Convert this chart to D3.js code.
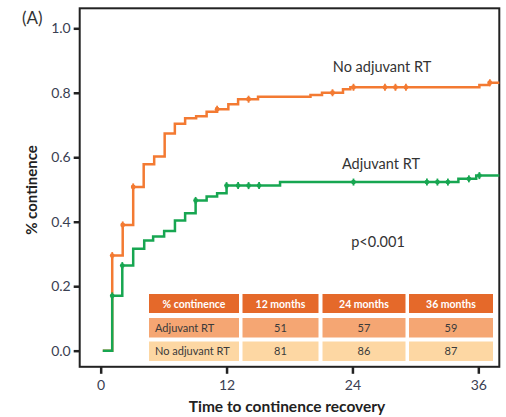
<!DOCTYPE html>
<html>
<head>
<meta charset="utf-8">
<script src="https://cdn.jsdelivr.net/npm/d3@7"></script>
<style>
  body { margin: 0; background: #fff; }
  text { font-family: Lato, "Open Sans", sans-serif; }
</style>
</head>
<body>
<div id="chart"></div>
<script>
// step curves: [months, proportion continent]
let noAdjSteps = [
  [0.2, 0], [1.1, 0.295], [2.1, 0.39], [3.1, 0.508], [4.1, 0.578], [5.1, 0.602],
  [6.1, 0.674], [7.07, 0.704], [8.05, 0.721], [9.1, 0.727], [10.1, 0.741],
  [11.1, 0.749], [12.17, 0.764], [13.1, 0.78], [15.0, 0.788], [20.0, 0.793],
  [21.1, 0.8], [23.1, 0.811], [23.8, 0.817], [36.1, 0.824], [37.0, 0.831], [38, 0.831]
];
let noAdjCensor = [1.1, 2.1, 3.1, 11.1, 14.1, 22.1, 24.1, 27.1, 28.1, 29.1, 37.1];

let adjSteps = [
  [0.2, 0], [1.1, 0.17], [2.06, 0.264], [3.1, 0.316], [4.15, 0.342], [5.0, 0.354],
  [6.05, 0.371], [7.08, 0.404], [8.05, 0.426], [9.05, 0.466], [10.1, 0.478],
  [11.1, 0.488], [12.0, 0.512], [17.1, 0.523], [34.1, 0.533], [35.8, 0.543], [38, 0.543]
];
let adjCensor = [1.1, 2.06, 9.05, 12.0, 13.1, 14.1, 15.1, 24.1, 31.1, 32.1, 33.1, 35.1, 36.1];

let yTicks = [0, 0.2, 0.4, 0.6, 0.8, 1.0];
let xTicks = [0, 12, 24, 36];

let tableHeader = ["% continence", "12 months", "24 months", "36 months"];
let tableRows = [
  ["Adjuvant RT", 51, 57, 59],
  ["No adjuvant RT", 81, 86, 87]
];

let orange = "#F37A32", green = "#17A651";

let svg = d3.select("#chart").append("svg")
  .attr("width", 506)
  .attr("height", 417);

let x = d3.scaleLinear().domain([-2, 38]).range([79.7, 499.3]);
let y = d3.scaleLinear().domain([-0.05, 1.062]).range([366.8, 8.3]);

// y axis
let yAxis = svg.append("g")
  .attr("transform", "translate(79.7,0)")
  .call(d3.axisLeft(y).tickValues(yTicks).tickFormat(d3.format(".1f")).tickSize(6).tickPadding(3));
// x axis
let xAxis = svg.append("g")
  .attr("transform", "translate(0,366.8)")
  .call(d3.axisBottom(x).tickValues(xTicks).tickSize(7).tickPadding(6));

[yAxis, xAxis].forEach(function (a) {
  a.select(".domain").remove();
  a.selectAll(".tick line").attr("stroke", "#222").attr("stroke-width", 2.5);
  a.selectAll(".tick text").attr("fill", "#3a4052").style("font-size", "14px")
    .style("font-family", "Lato, 'Open Sans', sans-serif");
});

// frame
svg.append("rect")
  .attr("x", x(-2)).attr("y", y(1.062))
  .attr("width", x(38) - x(-2)).attr("height", y(-0.05) - y(1.062))
  .attr("fill", "none").attr("stroke", "#222").attr("stroke-width", 2);

// axis titles
svg.append("text")
  .attr("transform", "translate(37,190) rotate(-90)")
  .attr("text-anchor", "middle")
  .style("font-size", "15px").style("font-weight", "bold").attr("fill", "#222")
  .text("% continence");
svg.append("text")
  .attr("x", 287).attr("y", 412)
  .attr("text-anchor", "middle")
  .style("font-size", "15.5px").style("font-weight", "bold").attr("fill", "#222")
  .text("Time to continence recovery");

svg.append("text")
  .attr("x", 22).attr("y", 24)
  .style("font-size", "17px").attr("fill", "#333")
  .text("(A)");

// curves
let line = d3.line()
  .x(function (d) { return x(d[0]); })
  .y(function (d) { return y(d[1]); })
  .curve(d3.curveStepAfter);

function valueAt(steps, t) {
  let v = 0;
  steps.forEach(function (s) { if (s[0] <= t + 1e-6) v = s[1]; });
  return v;
}

function drawCurve(steps, censor, color) {
  let g = svg.append("g");
  g.append("path")
    .datum(steps)
    .attr("d", line)
    .attr("fill", "none")
    .attr("stroke", color)
    .attr("stroke-width", 2.5);
  let marks = g.selectAll(".mark").data(censor).enter().append("g")
    .attr("transform", function (d) {
      return "translate(" + x(d) + "," + y(valueAt(steps, d)) + ")";
    });
  marks.append("line")
    .attr("y1", -3.5).attr("y2", 3.5)
    .attr("stroke", color).attr("stroke-width", 1.8);
  marks.append("circle")
    .attr("r", 2.4).attr("fill", color);
}

drawCurve(noAdjSteps, noAdjCensor, orange);
drawCurve(adjSteps, adjCensor, green);

// curve labels
svg.append("text").attr("x", 382).attr("y", 72).attr("text-anchor", "middle")
  .style("font-size", "14.5px").attr("fill", "#333").text("No adjuvant RT");
svg.append("text").attr("x", 381).attr("y", 169).attr("text-anchor", "middle")
  .style("font-size", "14.5px").attr("fill", "#333").text("Adjuvant RT");
svg.append("text").attr("x", 378).attr("y", 247).attr("text-anchor", "middle")
  .style("font-size", "14.5px").attr("fill", "#333").text("p<0.001");

// table
let colEdges = [[149, 239], [242.5, 318.5], [322.5, 405.5], [409, 493]];
let rowEdges = [[294, 313], [318, 337.5], [341.5, 361]];
let rowFill = ["#E5692A", "#F5A673", "#FDD7A3"];
let tableData = [tableHeader].concat(tableRows);

tableData.forEach(function (row, i) {
  row.forEach(function (cell, j) {
    let c = colEdges[j], r = rowEdges[i];
    svg.append("rect")
      .attr("x", c[0]).attr("y", r[0])
      .attr("width", c[1] - c[0]).attr("height", r[1] - r[0])
      .attr("fill", rowFill[i]);
    let left = (i > 0 && j === 0);
    svg.append("text")
      .attr("x", left ? c[0] + 6 : (c[0] + c[1]) / 2)
      .attr("y", (r[0] + r[1]) / 2 + 4)
      .attr("text-anchor", left ? "start" : "middle")
      .style("font-size", i === 0 ? "10.5px" : "11px")
      .style("font-weight", i === 0 ? "bold" : "normal")
      .attr("fill", i === 0 ? "#fff" : "#3a3a3a")
      .text(cell);
  });
});
</script>
</body>
</html>
